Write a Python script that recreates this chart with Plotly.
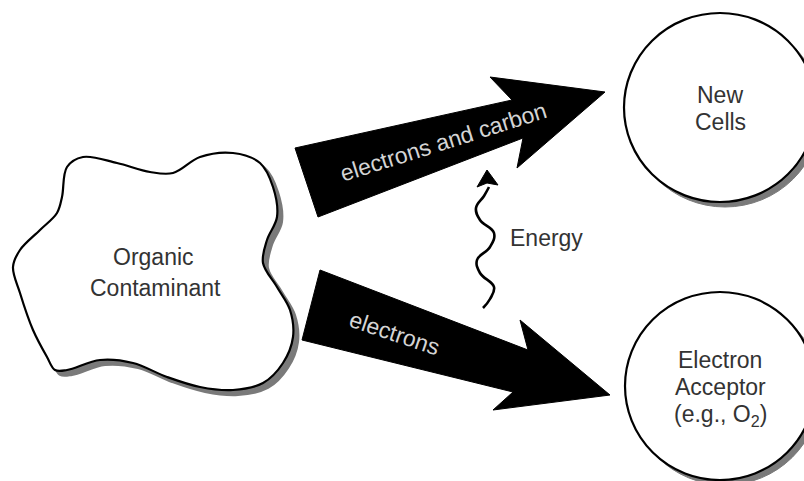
import plotly.graph_objects as go

# ---- diagram data (pixel coordinates, y downward) ----
blob_x = [117, 150, 173, 200, 233, 260, 273, 277, 267, 263, 277, 290, 293, 283, 263, 233, 200, 167,
          133, 100, 67, 55, 47, 33, 20, 13, 20, 40, 57, 62, 67, 83, 117]
blob_y = [163, 172, 173, 157, 153, 163, 187, 217, 240, 263, 287, 310, 337, 363, 383, 390, 387, 377,
          363, 360, 370, 370, 357, 330, 293, 267, 250, 230, 213, 197, 167, 157, 163]

arrow1_x = [295, 512, 490, 605, 517, 523, 318, 295]
arrow1_y = [148, 100, 77, 92, 168, 138, 217, 148]
arrow2_x = [320, 528, 520, 610, 493, 513, 302, 320]
arrow2_y = [270, 350, 320, 395, 410, 392, 340, 270]

wave_x = [489, 484, 476, 480, 494, 490, 477, 480, 494, 490, 483]
wave_y = [187, 196, 208, 220, 233, 247, 260, 273, 287, 299, 308]
wave_head_x = [487, 477, 487, 498, 487]
wave_head_y = [170, 187, 183, 185, 170]

circle_cx = [720, 720]
circle_cy = [107.5, 386]
circle_rx = [96, 95]
circle_ry = [94.5, 94]

labels = [
    ("Organic", 153, 257, 0, "#333333"),
    ("Contaminant", 155, 288, 0, "#333333"),
    ("New", 720, 95, 0, "#333333"),
    ("Cells", 720, 122, 0, "#333333"),
    ("Electron", 720, 360, 0, "#333333"),
    ("Acceptor", 720, 387, 0, "#333333"),
    ("(e.g., O<sub>2</sub>)", 720, 415, 0, "#333333"),
    ("Energy", 546, 238, 0, "#333333"),
    ("electrons and carbon", 443, 142, -17.5, "#d4d4d4"),
    ("electrons", 394, 333, 18.5, "#d4d4d4"),
]

FONT = "Liberation Sans, Arial, Helvetica, sans-serif"
SHADOW = "#7a7a7a"
SH_DX, SH_DY = 5, 5

fig = go.Figure()

# blob shadow + blob
fig.add_trace(go.Scatter(x=[v + SH_DX for v in blob_x], y=[v + SH_DY for v in blob_y],
                         mode="lines", line=dict(shape="spline", smoothing=1.0, color=SHADOW, width=2),
                         fill="toself", fillcolor=SHADOW, hoverinfo="skip"))
fig.add_trace(go.Scatter(x=blob_x, y=blob_y, mode="lines",
                         line=dict(shape="spline", smoothing=1.0, color="black", width=2.2),
                         fill="toself", fillcolor="white", hoverinfo="skip"))

# arrows
for ax_, ay_ in [(arrow1_x, arrow1_y), (arrow2_x, arrow2_y)]:
    fig.add_trace(go.Scatter(x=ax_, y=ay_, mode="lines", line=dict(color="black", width=1),
                             fill="toself", fillcolor="black", hoverinfo="skip"))

# wavy energy arrow
fig.add_trace(go.Scatter(x=wave_x, y=wave_y, mode="lines",
                         line=dict(shape="spline", smoothing=1.2, color="black", width=2.6),
                         hoverinfo="skip"))
fig.add_trace(go.Scatter(x=wave_head_x, y=wave_head_y, mode="lines", line=dict(color="black", width=1),
                         fill="toself", fillcolor="black", hoverinfo="skip"))

shapes = []
for cx, cy, rx, ry in zip(circle_cx, circle_cy, circle_rx, circle_ry):
    shapes.append(dict(type="circle", xref="x", yref="y", x0=cx - rx + SH_DX, x1=cx + rx + SH_DX,
                       y0=cy - ry + SH_DY, y1=cy + ry + SH_DY, fillcolor=SHADOW,
                       line=dict(color=SHADOW, width=1), layer="above"))
    shapes.append(dict(type="circle", xref="x", yref="y", x0=cx - rx, x1=cx + rx,
                       y0=cy - ry, y1=cy + ry, fillcolor="white",
                       line=dict(color="black", width=2.2), layer="above"))

annotations = []
for text, x, y, ang, col in labels:
    annotations.append(dict(text=text, x=x, y=y, xref="x", yref="y", showarrow=False,
                            textangle=ang, font=dict(family=FONT, size=23, color=col),
                            xanchor="center", yanchor="middle"))

fig.update_layout(
    width=804, height=481, margin=dict(l=0, r=0, t=0, b=0),
    paper_bgcolor="white", plot_bgcolor="white", showlegend=False,
    xaxis=dict(range=[0, 804], visible=False, fixedrange=True),
    yaxis=dict(range=[481, 0], visible=False, fixedrange=True),
    shapes=shapes, annotations=annotations,
)

fig.write_html("out.html", config={"displayModeBar": False},
               post_script="document.body.style.margin='0';document.body.style.overflow='hidden';")
